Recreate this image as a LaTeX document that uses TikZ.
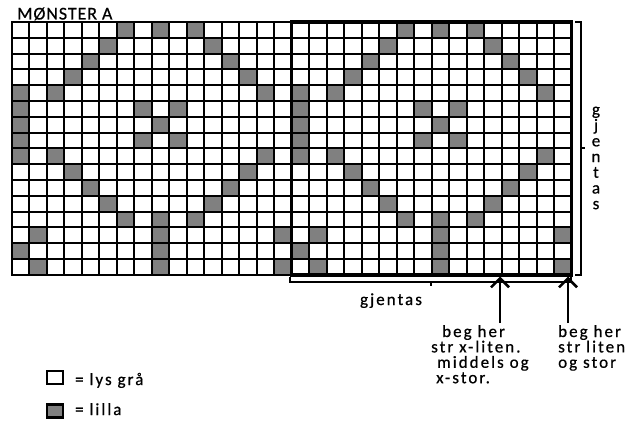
\documentclass[tikz,border=0pt]{standalone}
\usepackage{fontspec}
\setmainfont{Carlito}
\newfontfamily\spaced{Carlito}[LetterSpace=12, FakeBold=0.6]
\newfontfamily\headfont{Carlito}[LetterSpace=5, FakeBold=0.6]
\usetikzlibrary{arrows.meta}
\definecolor{lilla}{RGB}{128,128,128}
\tikzset{
  cell/.style={fill=lilla},
  gridline/.style={line width=2pt, line cap=rect},
  repeatbox/.style={line width=3.5pt},
  bracket/.style={line width=2pt},
  startarrow/.style={
    line width=2.5pt,
    -{Straight Barb[length=9pt,width=18pt]},
  },
  note/.style={
    font=\spaced\fontsize{17}{15.4}\selectfont,
    inner sep=0pt,
  },
  keybox/.style={
    draw,
    line width=2.5pt,
    minimum width=16pt,
    minimum height=13pt,
    inner sep=0pt,
  }
}

\begin{document}
\begin{tikzpicture}[x=1pt, y=-1pt]
  \useasboundingbox (0,0) rectangle (639,422);

  % lilla cells, the pattern repeats after 16 columns
  \foreach \rep in {0,16} {
    \foreach \c/\r in {
      7/1, 9/1, 11/1,
      6/2, 12/2,
      5/3, 13/3,
      4/4, 14/4,
      1/5, 3/5, 15/5,
      1/6, 8/6, 10/6,
      1/7, 9/7,
      1/8, 8/8, 10/8,
      1/9, 3/9, 15/9,
      4/10, 14/10,
      5/11, 13/11,
      6/12, 12/12,
      7/13, 9/13, 11/13,
      2/14, 9/14, 16/14,
      1/15, 9/15,
      2/16, 9/16, 16/16
    }
      \fill[cell] ({11.5+(\rep+\c-1)*17.5}, {22+(\r-1)*15.8}) rectangle ++(17.5, 15.8);
  }

  % grid lines
  \foreach \i in {0,...,32}
    \draw[gridline] ({11.5+\i*17.5}, 22) -- ({11.5+\i*17.5}, 274.8);
  \foreach \j in {0,...,16}
    \draw[gridline] (11.5, {22+\j*15.8}) -- (571.5, {22+\j*15.8});
  \draw[repeatbox] (291.5, 22) rectangle (571.5, 274.8);

  \node[font=\headfont\fontsize{18}{20}\selectfont, inner sep=0pt, anchor=base west]
    (header) at (17, 19.5) {MØNSTER A};

  % brackets
  \draw[bracket] (575, 22) -- (581, 22) -- (581, 275) -- (575, 275);
  \draw[bracket] (581, 148) -- (585, 148);
  \node[note, font=\spaced\fontsize{17}{15.7}\selectfont, align=center]
    (repeatV) at (596, 158) {g\\j\\e\\n\\t\\a\\s};

  \draw[bracket] (290, 277) -- (290, 282) -- (571, 282) -- (571, 277);
  \draw[bracket] (431, 282) -- (431, 286);
  \node[note, anchor=base] (repeatH) at (391, 305) {gjentas};

  % where to begin
  \node[note, anchor=north west, align=left] (start1) at (431, 325)
    {\hspace*{11pt}beg her\\str x-liten.\\\hspace*{6pt}middels og\\\hspace*{5pt}x-stor.};
  \node[note, anchor=north west, align=left] (start2) at (558, 325)
    {beg her\\str liten\\og stor};
  \coordinate (tail1) at (500, 323);
  \coordinate (tip1) at (500, 276.5);
  \coordinate (tail2) at (568, 323);
  \coordinate (tip2) at (568, 276.5);
  \draw[startarrow] (tail1) -- (tip1);
  \draw[startarrow] (tail2) -- (tip2);

  % key
  \node[keybox, fill=white] (keylys) at (55, 377.5) {};
  \node[note, anchor=base west] (keylystext) at (75, 385) {= lys grå};
  \node[keybox, fill=lilla] (keylilla) at (55, 411) {};
  \node[note, anchor=base west] (keylillatext) at (75, 415) {= lilla};
\end{tikzpicture}
\end{document}
